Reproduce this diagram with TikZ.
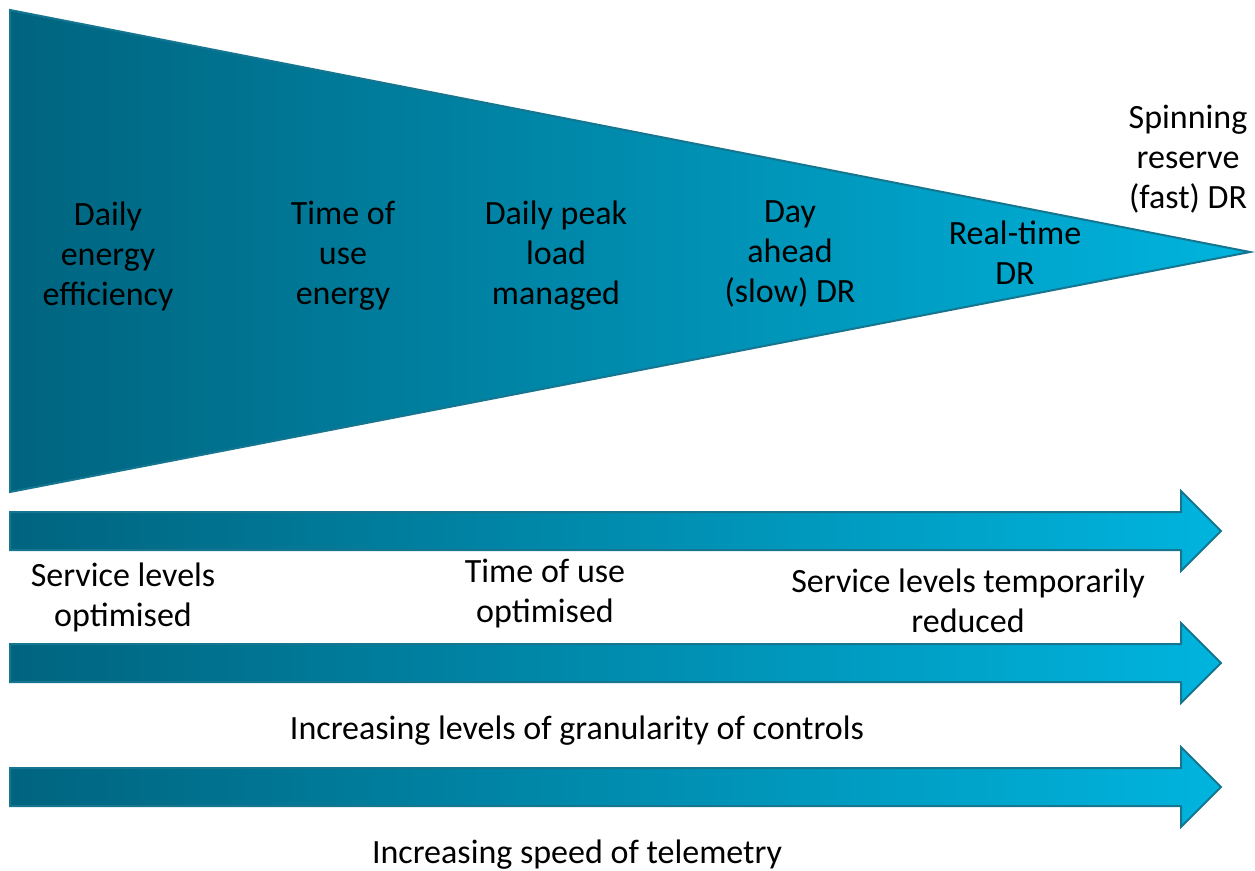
\documentclass[tikz,border=0pt]{standalone}
\usepackage{fontspec}
\setmainfont{Carlito}
\definecolor{tealdark}{RGB}{0,100,127}
\definecolor{tealbright}{RGB}{0,180,222}
\definecolor{tealedge}{RGB}{22,118,144}

\begin{document}
\begin{tikzpicture}[x=1pt,y=-1pt,font=\fontsize{34}{40}\selectfont,
  band/.style={draw=tealedge,line width=2pt,line join=miter,left color=tealdark,right color=tealbright},
  lbl/.style={align=center,inner sep=0pt}]
  \useasboundingbox (0,0) rectangle (1255,870);
  % funnel
  \draw[band] (10,10)--(1250,252)--(10,492)--cycle;
  % three arrows
  \draw[band] (10,512)--(1181,512)--(1181,491)--(1221,531)--(1181,571)--(1181,550)--(10,550)--cycle;
  \draw[band] (10,644)--(1181,644)--(1181,623)--(1221,663)--(1181,703)--(1181,682)--(10,682)--cycle;
  \draw[band] (10,768)--(1181,768)--(1181,747)--(1221,787)--(1181,827)--(1181,806)--(10,806)--cycle;
  % labels in the funnel
  \node[lbl] (daily) at (108,256) {Daily\\energy\\efficiency};
  \node[lbl] (tou) at (343,256) {Time of\\use\\energy};
  \node[lbl] (peak) at (556,256) {Daily peak\\load\\managed};
  \node[lbl] (dayahead) at (790,254) {Day\\ahead\\(slow) DR};
  \node[lbl] (realtime) at (1015,253) {Real-time\\DR};
  \node[lbl] (spinning) at (1188,159) {Spinning\\reserve\\(fast) DR};
  % labels under the arrows
  \node[lbl] (svcopt) at (123,597) {Service levels\\optimised};
  \node[lbl] (touopt) at (545,594) {Time of use\\optimised};
  \node[lbl] (svcred) at (968,601) {Service levels temporarily\\reduced};
  \node[lbl] (gran) at (577,731) {Increasing levels of granularity of controls};
  \node[lbl] (telem) at (577,855) {Increasing speed of telemetry};
\end{tikzpicture}
\end{document}
